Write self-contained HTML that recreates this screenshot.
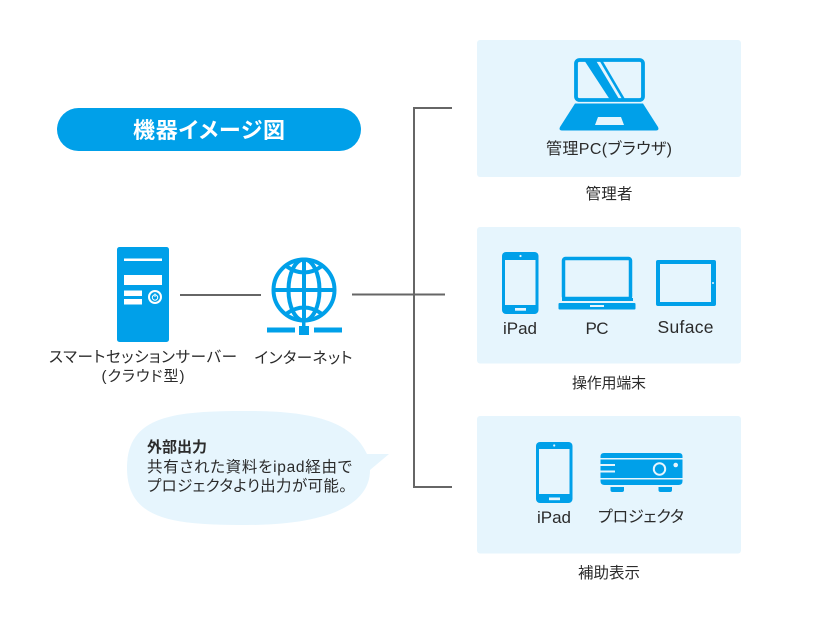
<!DOCTYPE html>
<html lang="ja"><head><meta charset="utf-8"><style>
html,body{margin:0;padding:0;background:#fff;width:840px;height:618px;overflow:hidden}
svg{display:block}
text{font-family:"Liberation Sans","Noto Sans CJK JP",sans-serif;fill:#2b2b2b;font-size:15px;font-feature-settings:"palt"}
.c{text-anchor:middle}
</style></head><body>
<svg width="840" height="618" viewBox="0 0 840 618" xmlns="http://www.w3.org/2000/svg">
<rect width="840" height="618" fill="#fff"/>
<!-- panels -->
<rect x="477" y="40" width="264" height="137" rx="3" fill="#e6f5fd"/>
<rect x="477" y="227" width="264" height="136.500" rx="3" fill="#e6f5fd"/>
<rect x="477" y="416" width="264" height="137.500" rx="3" fill="#e6f5fd"/>
<!-- connectors -->
<g stroke="#666" stroke-width="2" fill="none">
<path d="M452 108H414V487H452"/>
<path d="M352 294.500H445"/>
<path d="M180 295H261"/>
</g>
<!-- title -->
<rect x="57" y="108" width="304" height="43" rx="21.500" fill="#00a0e9"/>
<text x="209" y="138" class="c" textLength="152" style="font-size:22px;font-weight:700;fill:#fff">機器イメージ図</text>
<!-- server -->
<rect x="117" y="247" width="52" height="95" rx="2.500" fill="#00a0e9"/>
<g fill="#fff">
<rect x="124" y="258.500" width="38" height="2.500"/>
<rect x="124" y="275" width="38" height="10"/>
<rect x="124" y="290.500" width="18" height="5.500"/>
<rect x="124" y="299" width="18" height="5.500"/>
<circle cx="155" cy="297" r="7"/>
</g>
<circle cx="155" cy="297" r="5" fill="#00a0e9"/>
<circle cx="155" cy="297.500" r="2.700" fill="none" stroke="#fff" stroke-width="1"/>
<path d="M155 293.500V297" stroke="#fff" stroke-width="1"/>
<!-- globe -->
<g fill="none" stroke="#00a0e9" stroke-width="4">
<circle cx="304" cy="290" r="30.500"/>
<ellipse cx="304" cy="290" rx="15.500" ry="30.500"/>
<path d="M304 259.500V322M273.500 290H334.500"/>
<path d="M286 266Q304 279 322 266"/>
<path d="M286 314Q304 301 322 314"/>
</g>
<g fill="#00a0e9">
<rect x="302" y="320" width="3.500" height="7"/>
<rect x="299" y="326" width="10" height="9"/>
<rect x="267" y="327.500" width="28" height="5"/>
<rect x="314" y="327.500" width="28" height="5"/>
</g>
<text x="143" y="362" class="c" textLength="188" style="font-size:15.500px">スマートセッションサーバー</text>
<text x="143" y="381" class="c" textLength="83" style="font-size:15px">(クラウド型)</text>
<text x="303.500" y="363" class="c" textLength="98" style="font-size:15.500px">インターネット</text>
<!-- bubble -->
<path d="M127 468C127 415 175 411 247 411C315 411 352 422 367 454H389L370 470C370 510 315 525 247 525C175 525 127 521 127 468Z" fill="#e6f5fd"/>
<text x="147" y="452" textLength="60" style="font-size:15px;font-weight:700">外部出力</text>
<text x="147" y="472" textLength="205" style="font-size:15.500px">共有された資料をipad経由で</text>
<text x="147" y="491" textLength="200" style="font-size:15.500px">プロジェクタより出力が可能。</text>
<!-- admin laptop -->
<rect x="576" y="60" width="67" height="40" rx="3.500" fill="#e6f5fd" stroke="#00a0e9" stroke-width="3.800"/>
<path d="M585 61.500H596.500L619 99H609.500Z" fill="#00a0e9"/>
<path d="M600 61.500H603L625 99H622Z" fill="#00a0e9"/>
<path d="M575 103.500H643L658 127Q659.500 130.500 656 130.500H562Q558.500 130.500 560 127Z" fill="#00a0e9"/>
<path d="M598 117H621L624 125H595Z" fill="#e6f5fd"/>
<text x="609" y="154" class="c" textLength="126" style="font-size:16px">管理PC(ブラウザ)</text>
<text x="609" y="199" class="c" textLength="47" style="font-size:15.500px">管理者</text>
<!-- iPad 1 -->
<rect x="502" y="252" width="36.500" height="62" rx="4" fill="#00a0e9"/>
<rect x="505" y="260" width="30.500" height="45" fill="#e6f5fd"/>
<circle cx="520.500" cy="256" r="1.100" fill="#e6f5fd"/>
<rect x="515" y="308" width="11" height="2.700" fill="#e6f5fd"/>
<text x="520" y="334" class="c" textLength="34" style="font-size:17px">iPad</text>
<!-- PC -->
<rect x="563.500" y="258.500" width="67" height="40" rx="2" fill="#e6f5fd" stroke="#00a0e9" stroke-width="3.500"/>
<rect x="562" y="298" width="71" height="3" fill="#00a0e9"/>
<rect x="558.500" y="303" width="77" height="6.500" rx="1" fill="#00a0e9"/>
<rect x="590" y="305" width="14" height="2" fill="#e6f5fd"/>
<text x="597" y="334" class="c" textLength="23" style="font-size:17px">PC</text>
<!-- Surface -->
<rect x="656" y="260" width="60" height="46" rx="2" fill="#00a0e9"/>
<rect x="660" y="264" width="51" height="38" fill="#e6f5fd"/>
<circle cx="713" cy="283" r="1" fill="#e6f5fd"/>
<text x="685.500" y="333" class="c" textLength="56" style="font-size:17.500px">Suface</text>
<text x="609" y="388" class="c" textLength="74" style="font-size:15px">操作用端末</text>
<!-- iPad 2 -->
<rect x="536" y="442" width="36.500" height="61" rx="4" fill="#00a0e9"/>
<rect x="539" y="449" width="30.500" height="45" fill="#e6f5fd"/>
<circle cx="554.200" cy="445.500" r="1.100" fill="#e6f5fd"/>
<rect x="549" y="497.500" width="11" height="2.700" fill="#e6f5fd"/>
<text x="554" y="523" class="c" textLength="34" style="font-size:17px">iPad</text>
<!-- projector -->
<path d="M604 453H679Q682.500 453 682.500 456.500V458H600.500V456.500Q600.500 453 604 453Z" fill="#00a0e9"/>
<path d="M600.500 459.500H682.500V478H600.500Z" fill="#00a0e9"/>
<path d="M600.500 479.500H682.500V481Q682.500 485 678.500 485H604.500Q600.500 485 600.500 481Z" fill="#00a0e9"/>
<rect x="600" y="464" width="15" height="2" fill="#e6f5fd"/>
<rect x="600" y="470.500" width="15" height="2" fill="#e6f5fd"/>
<circle cx="659.500" cy="469" r="5.700" fill="#00a0e9" stroke="#e6f5fd" stroke-width="2"/>
<circle cx="675.700" cy="465" r="2.300" fill="#e6f5fd"/>
<path d="M610.500 487H624V490Q624 492 622 492H612.500Q610.500 492 610.500 490Z" fill="#00a0e9"/>
<path d="M658.500 487H672V490Q672 492 670 492H660.500Q658.500 492 658.500 490Z" fill="#00a0e9"/>
<text x="641" y="522" class="c" textLength="86" style="font-size:16px">プロジェクタ</text>
<text x="609" y="578" class="c" textLength="62" style="font-size:15.500px">補助表示</text>
</svg>
</body></html>
